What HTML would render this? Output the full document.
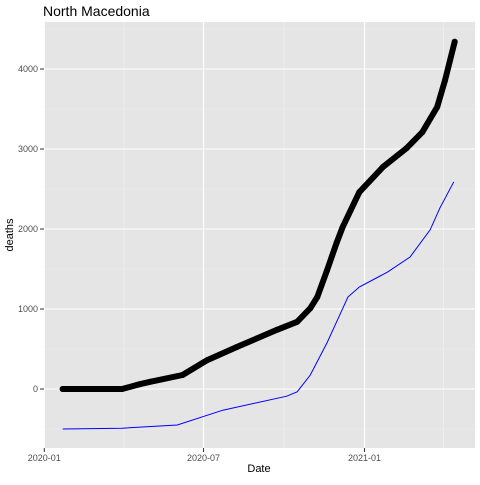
<!DOCTYPE html>
<html><head><meta charset="utf-8"><style>
body{margin:0;background:#fff}
svg text{font-family:"Liberation Sans",Arial,sans-serif}
</style></head><body>
<svg id="chart" width="480" height="480" viewBox="0 0 480 480">
<rect width="480" height="480" fill="#fff"/>
<text x="43" y="16" font-size="14" fill="#000">North Macedonia</text>
<rect x="44" y="22" width="431" height="426" fill="#e5e5e5"/>
<g id="grid"></g>
<g id="axes"></g>
<g id="series"></g>
<text x="259" y="472" font-size="11" text-anchor="middle" fill="#000">Date</text>
<text transform="translate(13,235) rotate(-90)" font-size="11" text-anchor="middle" fill="#000">deaths</text>
</svg>
<script>
// days since 2020-01-01
const blackDays = [21, 89, 109, 121, 158, 186, 220, 266, 289, 304, 312, 323, 334, 341, 360, 387, 414, 432, 449, 458, 469];
const blackDeaths = [0, 0, 60, 90, 175, 360, 525, 740, 840, 1010, 1150, 1480, 1825, 2025, 2460, 2775, 3010, 3210, 3525, 3860, 4340];
const blueDays = [21, 89, 152, 204, 277, 289, 304, 323, 335, 347, 360, 392, 418, 441, 452, 468];
const blueDeaths = [-500, -490, -450, -265, -90, -35, 175, 575, 862, 1150, 1275, 1460, 1650, 1990, 2260, 2590];
const yTicks = [0, 1000, 2000, 3000, 4000];
const yMinor = [-500, 500, 1500, 2500, 3500, 4500];
const xTickDays = [0, 182, 366];
const xTickLabels = ["2020-01", "2020-07", "2021-01"];
const xMinorDays = [91, 274, 456];

const X = d => 44.3 + d * 0.875;
const Y = v => 389 - v * 0.08;
const NS = "http://www.w3.org/2000/svg";
function mk(tag, attrs, parent) {
  const e = document.createElementNS(NS, tag);
  for (const k in attrs) e.setAttribute(k, attrs[k]);
  parent.appendChild(e);
  return e;
}
const grid = document.getElementById('grid');
const axes = document.getElementById('axes');
const series = document.getElementById('series');

yMinor.forEach(v => {
  const l = mk('line', {x1: 44, x2: 475, y1: Y(v), y2: Y(v), stroke: '#f2f2f2', 'stroke-width': 0.6}, grid);
  
  
});
xMinorDays.forEach(d => {
  const l = mk('line', {x1: X(d), x2: X(d), y1: 22, y2: 448, stroke: '#f2f2f2', 'stroke-width': 0.6}, grid);
  
  
});
yTicks.forEach(v => {
  const l = mk('line', {x1: 44, x2: 475, y1: Y(v), y2: Y(v), stroke: '#fff', 'stroke-width': 1.1}, grid);
  
  
  const t = mk('line', {x1: 40, x2: 44, y1: Y(v), y2: Y(v), stroke: '#333', 'stroke-width': 1}, axes);
  
  
  const tx = mk('text', {x: 38, y: Y(v) + 3, 'font-size': 9, 'text-anchor': 'end', fill: '#4d4d4d'}, axes);
  tx.textContent = v;
  
  
});
xTickDays.forEach((d, i) => {
  const l = mk('line', {x1: X(d), x2: X(d), y1: 22, y2: 448, stroke: '#fff', 'stroke-width': 1.1}, grid);
  
  
  const t = mk('line', {x1: X(d), x2: X(d), y1: 448, y2: 452, stroke: '#333', 'stroke-width': 1}, axes);
  
  
  const tx = mk('text', {x: X(d), y: 461, 'font-size': 9, 'text-anchor': 'middle', fill: '#4d4d4d'}, axes);
  tx.textContent = xTickLabels[i];
  
  
});

const bp = blueDays.map((d, i) => X(d) + ',' + Y(blueDeaths[i])).join(' ');
const bl = mk('polyline', {points: bp, fill: 'none', stroke: '#0000ff', 'stroke-width': 1}, series);



const kp = blackDays.map((d, i) => X(d) + ',' + Y(blackDeaths[i])).join(' ');
const kl = mk('polyline', {points: kp, fill: 'none', stroke: '#000', 'stroke-width': 6, 'stroke-linecap': 'round', 'stroke-linejoin': 'round'}, series);


blackDays.forEach((d, i) => {
  const c = mk('circle', {cx: X(d), cy: Y(blackDeaths[i]), r: 3, fill: '#000'}, series);
  
  
});
</script>
</body></html>
